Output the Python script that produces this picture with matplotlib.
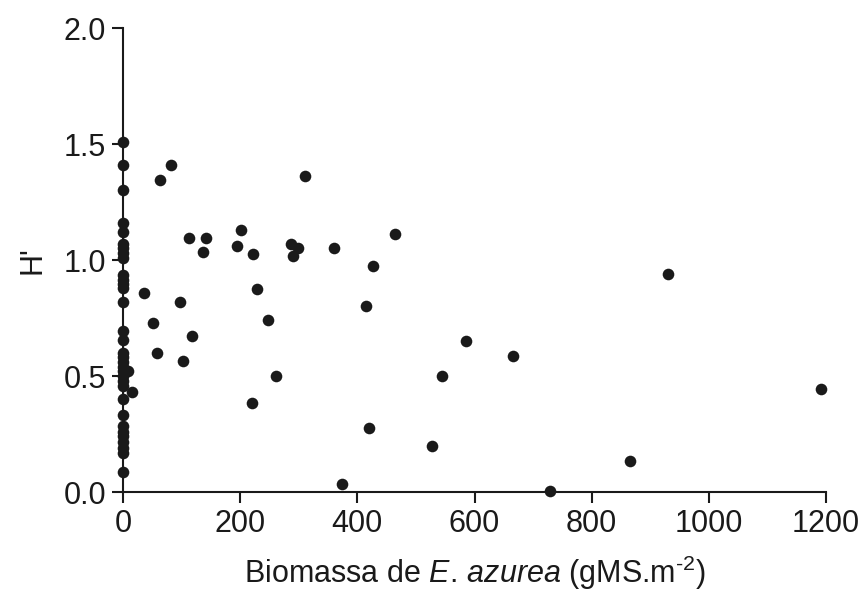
import matplotlib

matplotlib.use("Agg")
import matplotlib.pyplot as plt

plt.rcParams["font.family"] = ["Liberation Sans", "DejaVu Sans"]
plt.rcParams["mathtext.fontset"] = "custom"
plt.rcParams["mathtext.rm"] = "Liberation Sans"
plt.rcParams["mathtext.it"] = "Liberation Sans:italic"

# samples with no E. azurea biomass (x = 0)
zero_h = [
    1.51, 1.41, 1.30, 1.16, 1.12, 1.07, 1.05, 1.03, 1.01, 0.935, 0.915,
    0.895, 0.88, 0.82, 0.695, 0.655, 0.60, 0.58, 0.56, 0.54, 0.52, 0.50,
    0.48, 0.455, 0.40, 0.33, 0.285, 0.26, 0.24, 0.215, 0.19, 0.17, 0.088,
]

# samples with biomass > 0
biomass = [
    8, 15, 82, 64, 311, 202, 112, 141, 137, 194, 222, 287, 299, 291, 361,
    464, 426, 228, 35, 97, 414, 52, 247, 117, 585, 58, 102, 261, 544, 220,
    420, 527, 373, 931, 1192, 866, 729, 666,
]
diversity = [
    0.52, 0.43, 1.408, 1.346, 1.362, 1.129, 1.093, 1.093, 1.034, 1.059,
    1.024, 1.068, 1.053, 1.019, 1.050, 1.112, 0.973, 0.875, 0.858, 0.819,
    0.802, 0.728, 0.741, 0.672, 0.649, 0.598, 0.566, 0.501, 0.501, 0.382,
    0.277, 0.197, 0.033, 0.940, 0.443, 0.135, 0.003, 0.586,
]

x = [0] * len(zero_h) + biomass
y = zero_h + diversity

fig = plt.figure(figsize=(8.66, 6.01), dpi=100)
ax = fig.add_axes([123 / 866, 1 - 492 / 601, 703 / 866, 464 / 601])

ax.scatter(x, y, s=70, color="#1a1a1a", zorder=3, clip_on=False, linewidths=0)

ax.set_xlim(0, 1200)
ax.set_ylim(0, 2.0)
ax.set_xticks([0, 200, 400, 600, 800, 1000, 1200])
ax.set_yticks([0.0, 0.5, 1.0, 1.5, 2.0])
ax.set_yticklabels(["0.0", "0.5", "1.0", "1.5", "2.0"])

for side in ("top", "right"):
    ax.spines[side].set_visible(False)
for side in ("left", "bottom"):
    ax.spines[side].set_linewidth(1.5)
    ax.spines[side].set_color("#1a1a1a")

ax.tick_params(direction="out", length=8, width=1.5, colors="#1a1a1a",
               labelsize=22, pad=4)

ax.set_xlabel(r"Biomassa de $\mathit{E.\,azurea}$ (gMS.m$^{\text{-2}}$)",
              fontsize=22, color="#1a1a1a", labelpad=11)
ax.set_ylabel("H'", fontsize=22, color="#1a1a1a", labelpad=12)

fig.savefig("out.png", dpi=100, facecolor="white")
